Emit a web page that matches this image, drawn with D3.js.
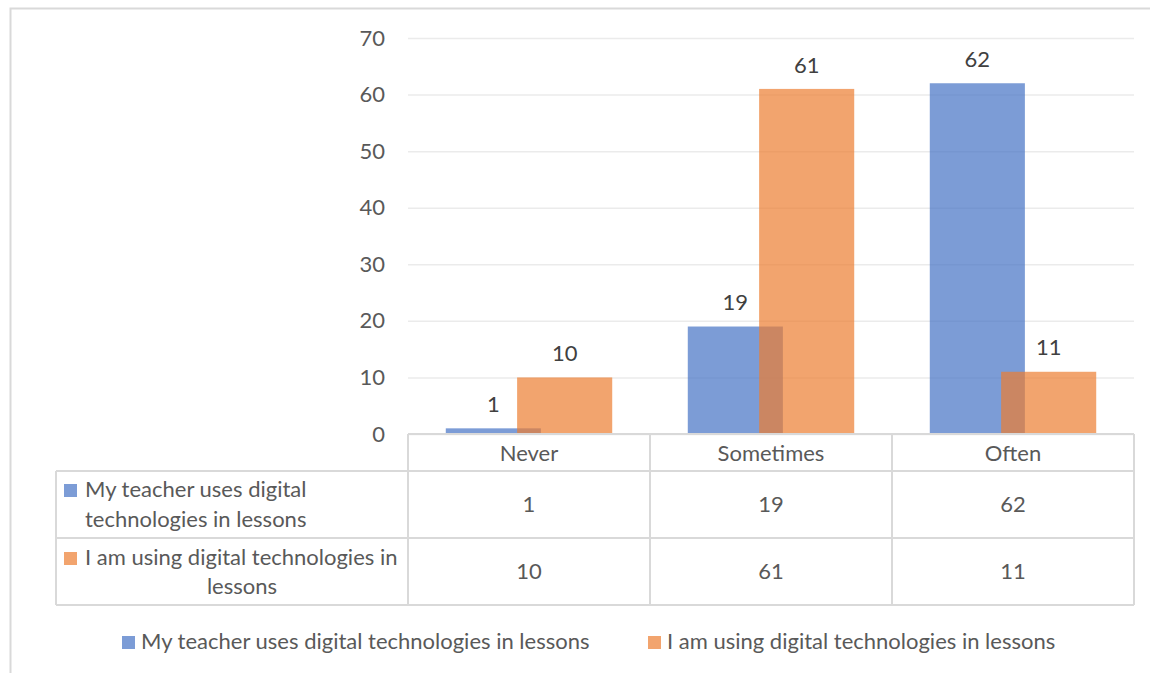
<!DOCTYPE html>
<html>
<head>
<meta charset="utf-8">
<script src="https://cdn.jsdelivr.net/npm/d3@7"></script>
<style>
  html, body { margin: 0; padding: 0; background: #fff; }
  svg { display: block; font-family: Lato, "Open Sans", sans-serif; }
</style>
</head>
<body>
<svg id="chart" width="1150" height="673"></svg>
<script>
// Survey answers: how often digital technologies are used in lessons
const categories = ["Never", "Sometimes", "Often"];
const seriesNames = [
  "My teacher uses digital technologies in lessons",
  "I am using digital technologies in lessons"
];
const teacherValues = [1, 19, 62];
const studentValues = [10, 61, 11];
const yTicks = [0, 10, 20, 30, 40, 50, 60, 70];

// Row labels of the data table, broken into lines
const rowLabelLines = [
  ["My teacher uses digital", "technologies in lessons"],
  ["I am using digital technologies in", "lessons"]
];

const series = [
  { name: seriesNames[0], values: teacherValues, color: "#4472C4" },
  { name: seriesNames[1], values: studentValues, color: "#ED7D31" }
];

const svg = d3.select("#chart");
const textColor = "#595959";
const lineColor = "#D9D9D9";
const fontSize = 22;

// Plot area
const plot = { left: 408, right: 1134, top: 38, bottom: 434 };

const x = d3.scaleBand().domain(categories).range([plot.left, plot.right]);
const y = d3.scaleLinear().domain([0, 70]).range([plot.bottom, plot.top]);

// Outer chart border
svg.append("rect")
  .attr("x", 10.5).attr("y", 8.5)
  .attr("width", 1200).attr("height", 700)
  .attr("fill", "none").attr("stroke", lineColor).attr("stroke-width", 2);

// Y axis with horizontal gridlines
const yAxis = d3.axisLeft(y)
  .tickValues(yTicks)
  .tickSize(-(plot.right - plot.left))
  .tickPadding(23);

const yG = svg.append("g")
  .attr("transform", `translate(${plot.left},0)`)
  .call(yAxis);
yG.select(".domain").remove();
yG.selectAll(".tick line").attr("stroke", "#EBEBEB").attr("stroke-width", 1.5);
yG.selectAll(".tick text")
  .attr("fill", textColor)
  .style("font-size", fontSize + "px")
  .style("font-family", "Lato, 'Open Sans', sans-serif");

// Clustered bars with overlap
const overlap = 0.25;
const barW = x.bandwidth() * 0.393;
const step = barW * (1 - overlap);
const gap = (x.bandwidth() - barW - step) / 2;

series.forEach((s, si) => {
  const g = svg.append("g");
  g.selectAll("rect")
    .data(categories.map((c, i) => ({ c, v: s.values[i] })))
    .join("rect")
    .attr("x", d => x(d.c) + gap + si * step)
    .attr("y", d => y(d.v))
    .attr("width", barW)
    .attr("height", d => y(0) - y(d.v))
    .attr("fill", s.color)
    .attr("fill-opacity", 0.7);
});

// Value labels above the bars
series.forEach((s, si) => {
  svg.append("g").selectAll("text")
    .data(categories.map((c, i) => ({ c, v: s.values[i] })))
    .join("text")
    .attr("x", d => x(d.c) + gap + si * step + barW / 2)
    .attr("y", d => y(d.v) - 24)
    .attr("dy", "0.35em")
    .attr("text-anchor", "middle")
    .attr("fill", "#404040")
    .style("font-size", fontSize + "px")
    .text(d => d.v);
});

// Data table below the plot
const tableTop = plot.bottom;
const rowEdges = [tableTop, 471, 538, 605];
const tableLeft = 56;
const tbl = svg.append("g").attr("stroke", lineColor).attr("stroke-width", 2).attr("fill", "none");

// Horizontal rules
tbl.append("line").attr("x1", plot.left).attr("x2", plot.right).attr("y1", rowEdges[0]).attr("y2", rowEdges[0]);
rowEdges.slice(1).forEach(ry => {
  tbl.append("line").attr("x1", tableLeft).attr("x2", plot.right).attr("y1", ry).attr("y2", ry);
});
// Vertical rules
const colEdges = [plot.left, ...categories.map(c => x(c) + x.bandwidth())];
colEdges.forEach(cx => {
  tbl.append("line").attr("x1", cx).attr("x2", cx).attr("y1", rowEdges[0]).attr("y2", rowEdges[3]);
});
tbl.append("line").attr("x1", tableLeft).attr("x2", tableLeft).attr("y1", rowEdges[1]).attr("y2", rowEdges[3]);

// Category headers
svg.append("g").selectAll("text")
  .data(categories)
  .join("text")
  .attr("x", d => x(d) + x.bandwidth() / 2)
  .attr("y", (rowEdges[0] + rowEdges[1]) / 2 + 1)
  .attr("dy", "0.35em")
  .attr("text-anchor", "middle")
  .attr("fill", textColor)
  .style("font-size", fontSize + "px")
  .text(d => d);

// Table values
series.forEach((s, si) => {
  svg.append("g").selectAll("text")
    .data(categories.map((c, i) => ({ c, v: s.values[i] })))
    .join("text")
    .attr("x", d => x(d.c) + x.bandwidth() / 2)
    .attr("y", (rowEdges[si + 1] + rowEdges[si + 2]) / 2)
    .attr("dy", "0.35em")
    .attr("text-anchor", "middle")
    .attr("fill", textColor)
    .style("font-size", fontSize + "px")
    .text(d => d.v);
});

// Row labels with legend keys
const labelX = 85;
const labelLayout = [
  [{ x: labelX, anchor: "start", y: 497 }, { x: labelX, anchor: "start", y: 527 }],
  [{ x: labelX, anchor: "start", y: 565 }, { x: 242, anchor: "middle", y: 594 }]
];
series.forEach((s, si) => {
  svg.append("rect")
    .attr("x", 64).attr("y", labelLayout[si][0].y - 13)
    .attr("width", 13).attr("height", 13)
    .attr("fill", s.color).attr("fill-opacity", 0.7);
  rowLabelLines[si].forEach((line, li) => {
    const p = labelLayout[si][li];
    svg.append("text")
      .attr("x", p.x).attr("y", p.y)
      .attr("text-anchor", p.anchor)
      .attr("fill", textColor)
      .style("font-size", fontSize + "px")
      .text(line);
  });
});

// Legend at the bottom
const legendItems = [
  { x: 122, s: series[0] },
  { x: 648, s: series[1] }
];
const legendBaseline = 649;
legendItems.forEach(item => {
  svg.append("rect")
    .attr("x", item.x).attr("y", legendBaseline - 13)
    .attr("width", 13).attr("height", 13)
    .attr("fill", item.s.color).attr("fill-opacity", 0.7);
  svg.append("text")
    .attr("x", item.x + 19).attr("y", legendBaseline)
    .attr("fill", textColor)
    .style("font-size", fontSize + "px")
    .text(item.s.name);
});
</script>
</body>
</html>
